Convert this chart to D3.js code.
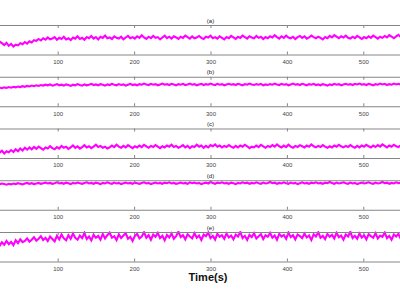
<!DOCTYPE html>
<html><head><meta charset="utf-8">
<script src="https://cdn.jsdelivr.net/npm/d3@7"></script>
<style>html,body{margin:0;padding:0;background:#fff;}svg{display:block;}</style>
</head><body>
<svg id="c" width="400" height="300"></svg>
<script>
const panelTitles = ["(a)", "(b)", "(c)", "(d)", "(e)"];
const xTicks = [100, 200, 300, 400, 500];
const xLabel = "Time(s)";
const times = d3.range(21, 555, 3);
const seriesA = [50,44,40,35,41,33,38,31,36,34,40,37,43,39,45,42,48,46,51,47,
53,49,55,50,52,56,49,54,51,57,50,53,48,55,52,58,51,54,49,56,
53,59,52,56,50,57,54,60,53,55,51,58,54,52,57,50,55,59,53,56,
52,58,54,61,55,51,57,53,59,54,56,50,55,60,53,57,52,58,55,51,
57,54,60,56,52,58,53,55,59,54,51,57,55,60,53,56,52,58,54,50,
56,53,59,55,51,57,54,60,56,52,58,55,53,59,54,57,51,56,53,58,
55,61,56,52,58,54,60,55,53,57,51,56,59,54,58,52,55,60,56,53,
57,54,50,56,53,59,55,61,57,53,58,55,60,54,52,57,53,59,55,51,
56,53,58,54,60,56,52,57,54,59,55,61,57,53,58,62,56,59];
const seriesB = [60,63,61,64,62,65,63,66,64,67,65,68,66,69,67,70,68,71,69,72,
70,73,71,74,70,72,75,71,73,70,74,72,69,73,71,75,72,70,74,71,
73,76,72,74,71,75,73,70,74,72,76,73,71,75,72,74,70,73,76,72,
74,71,75,73,77,74,72,76,73,75,71,74,77,73,75,72,76,74,71,75,
73,76,72,74,77,73,75,71,74,76,72,75,73,77,74,72,76,73,75,71,
74,76,73,75,72,76,74,71,75,73,77,74,72,75,73,76,71,74,72,75,
73,77,74,72,76,73,75,71,74,77,73,75,72,76,74,71,75,73,76,72,
74,71,75,73,70,74,72,76,73,75,71,74,76,73,75,72,76,74,77,73,
75,72,76,74,71,75,73,77,74,76,72,75,73,77,74,76,73,75];
const seriesC = [28,22,27,20,26,23,29,24,31,26,33,28,35,30,36,31,37,32,38,34,
30,36,33,39,34,31,37,33,40,35,38,32,36,41,35,39,33,37,42,36,
39,34,38,43,37,40,35,38,33,36,41,37,43,38,35,40,36,42,38,34,
39,36,41,37,43,39,35,40,37,42,38,34,39,36,41,38,43,37,40,35,
38,42,36,40,34,39,37,43,38,41,35,40,36,42,39,44,38,41,36,40,
37,42,38,35,40,36,41,38,43,39,34,38,36,41,37,43,39,35,40,37,
42,38,44,39,36,41,37,43,38,35,40,37,42,39,36,41,38,44,39,36,
40,37,42,38,35,39,36,41,38,43,39,36,40,37,42,38,35,40,36,41,
38,43,39,36,41,37,42,38,44,40,36,41,38,43,39,37,42,38];
const seriesD = [88,86,89,87,85,88,86,89,87,90,88,86,89,91,88,90,87,89,91,88,
90,92,89,91,88,90,93,89,91,88,92,90,87,91,89,92,90,88,91,93,
89,91,88,92,90,87,91,89,93,90,88,92,89,91,87,90,92,89,91,88,
92,90,88,91,93,89,91,87,90,92,89,91,88,92,90,93,89,91,88,90,
92,89,91,88,93,90,92,89,91,87,90,92,89,94,91,88,92,90,93,89,
91,88,92,90,87,91,89,93,90,92,88,91,89,93,90,88,92,89,91,94,
90,92,88,91,89,93,90,88,92,89,91,87,90,93,89,91,88,92,90,93,
89,91,88,92,90,94,91,88,92,89,91,93,90,88,92,89,91,87,90,92,
89,91,93,90,88,92,89,91,94,90,92,88,91,89,93,90,92,89];
const seriesE = [62,55,66,58,70,60,67,57,72,63,75,66,70,78,68,74,82,71,77,85,
73,80,70,84,76,69,86,75,90,78,72,88,77,93,80,74,87,79,95,76,
84,72,90,80,86,74,92,78,88,96,80,85,73,91,79,87,94,77,83,70,
86,92,78,84,97,80,88,74,90,83,95,79,86,72,89,81,93,77,85,99,
82,88,75,91,84,78,94,80,87,73,90,85,96,79,86,74,92,83,88,77,
93,81,87,75,90,84,98,79,86,73,89,82,94,78,85,91,76,88,83,95,
80,87,74,92,84,89,77,96,82,88,75,90,85,79,93,81,87,73,91,84,
97,80,86,76,92,83,89,78,95,82,87,74,90,84,99,79,86,77,93,81,
88,75,91,85,80,94,78,87,83,96,79,86,74,90,84,92,77,88];
const allSeries = [seriesA, seriesB, seriesC, seriesD, seriesE];
const yDomains = [[10, 88], [0, 100], [8, 86], [0, 100], [6, 98]];

const svg = d3.select("#c");
const x = d3.scaleLinear().domain([0, 600]).range([-18.7, 439.7]);
const axisColor = "#858585";
const top0 = 25, step = 51.75, ph = 29.5;

svg.append("defs").append("clipPath").attr("id","clip")
  .append("rect").attr("x", x(0)).attr("y", -1).attr("width", x(600)-x(0)).attr("height", ph+2);

allSeries.forEach((vals, i) => {
  const t = top0 + i*step;
  const g = svg.append("g").attr("transform", `translate(0,${t})`);
  const y = d3.scaleLinear().domain(yDomains[i]).range([ph, 0]);
  const line = d3.line().x((d, j) => x(times[j])).y(d => y(d));
  g.append("path").datum(vals).attr("clip-path","url(#clip)")
    .attr("fill","none").attr("stroke","#ff00ff").attr("stroke-width",2.1)
    .attr("stroke-linejoin","miter").attr("d", line);
  const ax = g.append("g").attr("transform", `translate(0,${ph})`)
    .call(d3.axisBottom(x).tickValues(xTicks).tickSizeInner(-3).tickSizeOuter(0).tickPadding(5));
  ax.select(".domain").attr("stroke", axisColor);
  ax.selectAll(".tick line").attr("stroke", axisColor);
  ax.selectAll(".tick text").attr("fill","#444").style("font-family","Liberation Sans, Arial, sans-serif").style("font-size","6px");
  const axT = g.append("g")
    .call(d3.axisTop(x).tickValues(xTicks).tickSizeInner(-3).tickSizeOuter(0).tickFormat(""));
  axT.select(".domain").attr("stroke", axisColor);
  axT.selectAll(".tick line").attr("stroke", axisColor);
  g.append("text").attr("x", x(300)).attr("y", -2.5).attr("text-anchor","middle")
    .style("font-family","Liberation Sans, Arial, sans-serif").style("font-size","6px").attr("fill","#222")
    .text(panelTitles[i]);
});

svg.append("text").attr("x", 208).attr("y", 281).attr("text-anchor","middle")
  .style("font-family","Liberation Sans, Arial, sans-serif").style("font-size","11px").style("font-weight","bold")
  .attr("fill","#111").text(xLabel);
</script>
</body></html>
